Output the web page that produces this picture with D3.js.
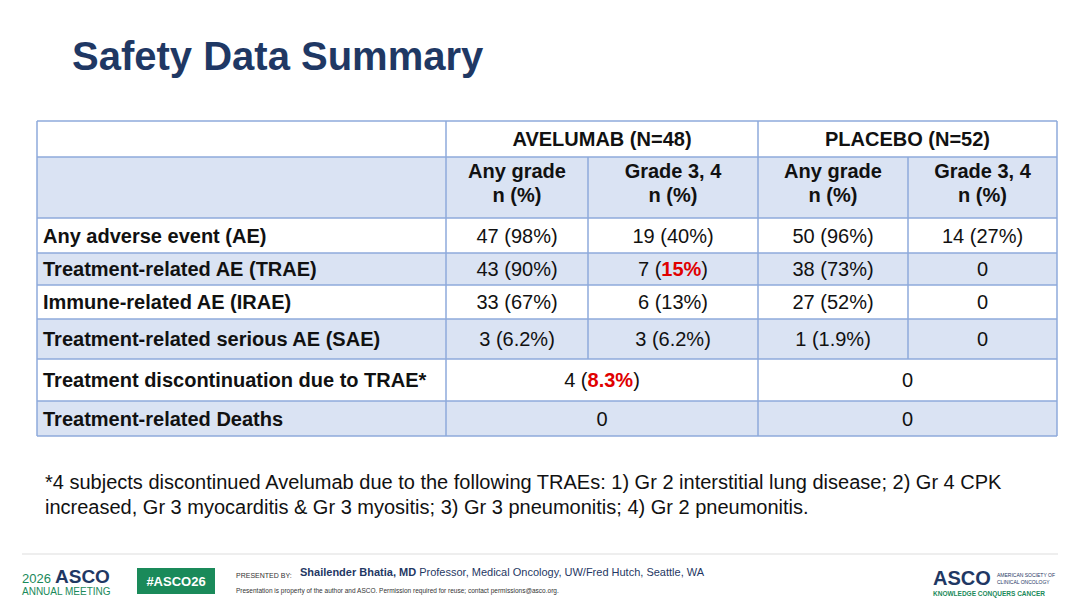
<!DOCTYPE html>
<html><head><meta charset="utf-8">
<script src="https://cdn.jsdelivr.net/npm/d3@7"></script>
<style>body{margin:0;background:#fff}svg{font-family:"Liberation Sans",Arial,sans-serif}</style>
</head><body><svg id="c" width="1080" height="608"></svg>
<script>
// table content
var rowLabels = ["Any adverse event (AE)", "Treatment-related AE (TRAE)", "Immune-related AE (IRAE)",
  "Treatment-related serious AE (SAE)", "Treatment discontinuation due to TRAE*", "Treatment-related Deaths"];
var aveAny = ["47 (98%)", "43 (90%)", "33 (67%)", "3 (6.2%)"];
var aveG34 = ["19 (40%)", "7 (|15%|)", "6 (13%)", "3 (6.2%)"];
var plaAny = ["50 (96%)", "38 (73%)", "27 (52%)", "1 (1.9%)"];
var plaG34 = ["14 (27%)", "0", "0", "0"];
var mergedAve = ["4 (|8.3%|)", "0"];
var mergedPla = ["0", "0"];
var groups = ["AVELUMAB (N=48)", "PLACEBO (N=52)"];
var subHeads = [["Any grade", "n (%)"], ["Grade 3, 4", "n (%)"], ["Any grade", "n (%)"], ["Grade 3, 4", "n (%)"]];

var svg = d3.select("#c");
var colX = [37, 446, 588, 758, 908, 1057];
var rowY = [121, 157, 218, 253, 285, 319, 359, 401, 436];
var blue = "#dae3f3", border = "#8eaadb", ink = "#111";

svg.append("text").attr("x", 72).attr("y", 70).attr("font-size", 40).attr("font-weight", "bold")
  .attr("fill", "#1f3864").text("Safety Data Summary");

// row backgrounds
for (var r = 0; r < 8; r++) {
  svg.append("rect").attr("x", colX[0]).attr("y", rowY[r]).attr("width", colX[5] - colX[0])
    .attr("height", rowY[r + 1] - rowY[r]).attr("fill", r % 2 ? blue : "#fff");
}

function cellText(x, y, s, opts) {
  opts = opts || {};
  var t = svg.append("text").attr("x", x).attr("y", y).attr("font-size", 20).attr("fill", ink)
    .attr("text-anchor", opts.anchor || "middle").attr("dominant-baseline", "central")
    .attr("font-weight", opts.bold ? "bold" : "normal");
  s.split("|").forEach(function(p, i) {
    var ts = t.append("tspan").text(p);
    if (i % 2) ts.attr("fill", "#e00000").attr("font-weight", "bold");
  });
}
function mid(a, b) { return (a + b) / 2; }

// headers
cellText(mid(colX[1], colX[3]), mid(rowY[0], rowY[1]), groups[0], {bold: true});
cellText(mid(colX[3], colX[5]), mid(rowY[0], rowY[1]), groups[1], {bold: true});
subHeads.forEach(function(h, i) {
  cellText(mid(colX[i + 1], colX[i + 2]), rowY[1] + 14, h[0], {bold: true});
  cellText(mid(colX[i + 1], colX[i + 2]), rowY[1] + 38, h[1], {bold: true});
});

// body
rowLabels.forEach(function(lab, i) {
  var y = mid(rowY[i + 2], rowY[i + 3]);
  cellText(43, y, lab, {bold: true, anchor: "start"});
  if (i < 4) {
    [aveAny, aveG34, plaAny, plaG34].forEach(function(col, j) {
      cellText(mid(colX[j + 1], colX[j + 2]), y, col[i]);
    });
  } else {
    cellText(mid(colX[1], colX[3]), y, mergedAve[i - 4]);
    cellText(mid(colX[3], colX[5]), y, mergedPla[i - 4]);
  }
});

// grid lines
var g = svg.append("g").attr("stroke", border).attr("stroke-width", 1.5);
rowY.forEach(function(y) { g.append("line").attr("x1", colX[0]).attr("x2", colX[5]).attr("y1", y).attr("y2", y); });
colX.forEach(function(x, i) {
  var y1 = (i === 2 || i === 4) ? rowY[1] : rowY[0];
  var y2 = (i === 2 || i === 4) ? rowY[6] : rowY[8];
  g.append("line").attr("x1", x).attr("x2", x).attr("y1", y1).attr("y2", y2);
});

// footnote
var fn = ["*4 subjects discontinued Avelumab due to the following TRAEs: 1) Gr 2 interstitial lung disease; 2) Gr 4 CPK",
  "increased, Gr 3 myocarditis & Gr 3 myositis; 3) Gr 3 pneumonitis; 4) Gr 2 pneumonitis."];
fn.forEach(function(s, i) {
  svg.append("text").attr("x", 45).attr("y", 489 + i * 25).attr("font-size", 20).attr("fill", ink).text(s);
});

// footer
svg.append("line").attr("x1", 22).attr("x2", 1058).attr("y1", 554).attr("y2", 554).attr("stroke", "#ddd");
svg.append("text").attr("x", 22).attr("y", 583).attr("font-size", 13).attr("fill", "#1a8a5a").text("2026");
svg.append("text").attr("x", 55).attr("y", 583).attr("font-size", 19).attr("font-weight", "bold").attr("fill", "#1f3864").text("ASCO");
svg.append("text").attr("x", 22).attr("y", 595).attr("font-size", 10).attr("fill", "#1a8a5a").text("ANNUAL MEETING");
svg.append("rect").attr("x", 137).attr("y", 568).attr("width", 78).attr("height", 26).attr("fill", "#1a8a5a");
svg.append("text").attr("x", 176).attr("y", 586).attr("font-size", 13).attr("font-weight", "bold").attr("fill", "#fff")
  .attr("text-anchor", "middle").text("#ASCO26");
svg.append("text").attr("x", 236).attr("y", 578).attr("font-size", 7).attr("fill", "#333").text("PRESENTED BY:");
var p = svg.append("text").attr("x", 300).attr("y", 576).attr("font-size", 11).attr("fill", "#1f3864");
p.append("tspan").attr("font-weight", "bold").text("Shailender Bhatia, MD");
p.append("tspan").text(" Professor, Medical Oncology, UW/Fred Hutch, Seattle, WA");
svg.append("text").attr("x", 236).attr("y", 593).attr("font-size", 6.5).attr("fill", "#333")
  .text("Presentation is property of the author and ASCO. Permission required for reuse; contact permissions@asco.org.");
svg.append("text").attr("x", 933).attr("y", 585).attr("font-size", 20).attr("font-weight", "bold").attr("fill", "#1f3864").text("ASCO");
svg.append("text").attr("x", 997).attr("y", 577).attr("font-size", 5).attr("fill", "#1f3864").text("AMERICAN SOCIETY OF");
svg.append("text").attr("x", 997).attr("y", 584).attr("font-size", 5).attr("fill", "#1f3864").text("CLINICAL ONCOLOGY");
svg.append("text").attr("x", 933).attr("y", 596).attr("font-size", 6.5).attr("font-weight", "bold").attr("fill", "#1a8a5a").text("KNOWLEDGE CONQUERS CANCER");
</script></body></html>
